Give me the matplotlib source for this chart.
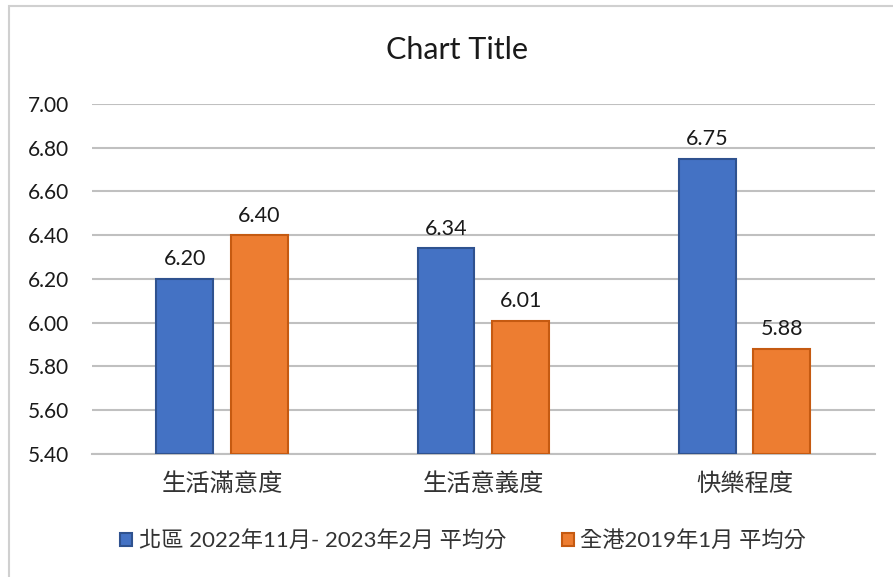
import numpy as np
import matplotlib.pyplot as plt
from matplotlib.patches import Rectangle

plt.rcParams['font.family'] = ['Lato', 'Noto Sans CJK TC', 'DejaVu Sans']

categories = ['生活滿意度', '生活意義度', '快樂程度']
north_vals = [6.20, 6.34, 6.75]
hk_vals = [6.40, 6.01, 5.88]
series_names = ['北區 2022年11月- 2023年2月 平均分', '全港2019年1月 平均分']
yticks = [5.40, 5.60, 5.80, 6.00, 6.20, 6.40, 6.60, 6.80, 7.00]

fig = plt.figure(figsize=(8.93, 5.77), dpi=100)
ax = fig.add_axes([0.1025, 0.2132, 0.8775, 0.6066])

# outer frame (left/top visible only)
fig.patches.append(Rectangle((9 / 893, -0.1), 1.2, 1 - 6 / 577 + 0.1,
                             transform=fig.transFigure, fill=False,
                             edgecolor='#D0D0D0', linewidth=1.5))

x = np.arange(len(categories))
w = 0.218
off = 0.143
b1 = ax.bar(x - off, np.array(north_vals) - 5.4, w, bottom=5.4,
            color='#4472C4', edgecolor='#2F528F', linewidth=1.5,
            label=series_names[0], zorder=3)
b2 = ax.bar(x + off, np.array(hk_vals) - 5.4, w, bottom=5.4,
            color='#ED7D31', edgecolor='#C55A11', linewidth=1.5,
            label=series_names[1], zorder=3)

for bars, vals in ((b1, north_vals), (b2, hk_vals)):
    for r, v in zip(bars, vals):
        ax.annotate(f'{v:.2f}', (r.get_x() + r.get_width() / 2, v),
                    xytext=(0, 7), textcoords='offset points',
                    ha='center', va='bottom', fontsize=15.5, color='#1a1a1a')

ax.set_xlim(-0.5, 2.5)
ax.set_ylim(5.4, 7.0)
ax.set_yticks(yticks)
ax.set_yticklabels([f'{t:.2f}' for t in yticks], fontsize=15, color='#1a1a1a')
ax.set_xticks(x)
ax.set_xticklabels(categories, fontsize=17.5, color='#333333')
ax.tick_params(axis='y', length=0, pad=16)
ax.tick_params(axis='x', length=0, pad=13)
ax.yaxis.grid(True, color='#C0C0C0', linewidth=1.5, zorder=0)
ax.set_axisbelow(True)
for s in ['top', 'right', 'left']:
    ax.spines[s].set_visible(False)
ax.spines['bottom'].set_color('#C0C0C0')
ax.spines['bottom'].set_linewidth(1.5)

fig.text(457 / 893, 1 - 50 / 577, 'Chart Title', ha='center', va='center',
         fontsize=22, color='#1a1a1a')

fig.legend(handles=[b1, b2], loc='center', bbox_to_anchor=(463 / 893, 1 - 541 / 577),
           ncol=2, frameon=False, fontsize=16, handlelength=0.55, handleheight=0.55,
           handletextpad=0.3, columnspacing=2.5, labelcolor='#333333')

fig.savefig('out.png', dpi=100)
